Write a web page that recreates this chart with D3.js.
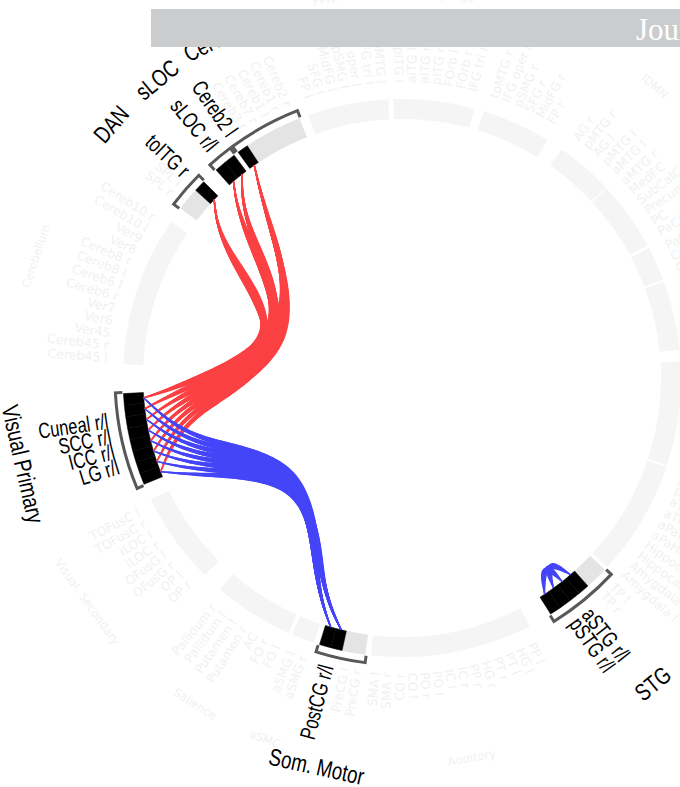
<!DOCTYPE html>
<html>
<head>
<meta charset="utf-8">
<script src="https://cdn.jsdelivr.net/npm/d3@7"></script>
<style>
  body { margin: 0; background: #fff; }
  svg { display: block; }
</style>
</head>
<body>
<div id="graph"></div>
<script>
// ring groups in clockwise order, starting at Visual Primary
const groupNames = ["Visual Primary", "Cerebellum", "DAN", "sLOC", "Cerebellum", "FPN l", "Language", "FPN r",
    "lDMN", "DMN", "Salience ant", "Subcortical", "Cerebellum post", "Limbic", "STG", "Auditory",
    "Som. Motor", "aSMC", "Salience", "Visual. Secondary"];
const groupRois = [
    ["LG r", "LG l", "ICC r", "ICC l", "SCC r", "SCC l", "Cuneal r", "Cuneal l"],
    ["Cereb45 l", "Cereb45 r", "Ver45", "Ver6", "Ver7", "Cereb6 r", "Cereb6 l", "Cereb8 l", "Cereb8 r", "Ver8", "Ver9", "Cereb10 l", "Cereb10 r"],
    ["SPL r", "SPL l", "toITG r"],
    ["sLOC r", "sLOC l"],
    ["Cereb2 l", "Cereb3 r", "Cereb7 r", "Cereb1 l", "Cereb1 r", "Cereb2 r"],
    ["FP l", "SFG l", "MidFG l", "pSMG l", "IFG oper l", "IFG tri l", "toMTG l"],
    ["pITG l", "aITG l", "aITG r", "pITG r", "FOrb l", "FOrb r", "IFG tri r"],
    ["toMTG r", "IFG oper r", "pSMG r", "SFG r", "MidFG r", "FP r"],
    ["AG r", "pMTG r", "AG l", "pMTG l", "aMTG l"],
    ["aMTG r", "MedFC", "SubCalC", "Precuneous", "PC", "PaCiG l"],
    ["PaCiG r", "Caudate l", "Caudate r"],
    ["Thalamus l", "Thalamus r", "Accumbens l", "Accumbens r", "Brain-Stem", "Ver12"],
    ["Ver3", "Ver10", "Cereb9 l", "Cereb9 r", "Cereb3 l", "Cereb7 l", "toITG l", "pPaHC l", "pPaHC r"],
    ["pTFusC l", "pTFusC r", "aTFusC l", "aTFusC r", "aPaHC r", "aPaHC l", "Hippocampus r", "Hippocampus l", "Amygdala r", "Amygdala l"],
    ["TP l", "TP r", "aSTG r", "aSTG l", "pSTG r", "pSTG l"],
    ["PP l", "HG l", "PT l", "PT r", "HG r", "PP r", "IC r", "IC l", "PO l", "PO r", "CO l", "CO r", "SMA r", "SMA l"],
    ["PreCG r", "PreCG l", "PostCG r", "PostCG l"],
    ["aSMG r", "aSMG l"],
    ["FO l", "FO r", "AC", "Putamen r", "Putamen l", "Pallidum l", "Pallidum r"],
    ["OP r", "OP l", "OFusG r", "OFusG l", "iLOC r", "iLOC l", "TOFusC r", "TOFusC l"]
];

// significant ROIs, labelled as left/right pairs
const sigLabels = ["LG r/l", "ICC r/l", "SCC r/l", "Cuneal r/l", "toITG r", "sLOC r/l", "Cereb2 l", "aSTG r/l", "pSTG r/l", "PostCG r/l"];
const sigRois = [["LG r", "LG l"], ["ICC r", "ICC l"], ["SCC r", "SCC l"], ["Cuneal r", "Cuneal l"], ["toITG r"],
    ["sLOC r", "sLOC l"], ["Cereb2 l"], ["aSTG r", "aSTG l"], ["pSTG r", "pSTG l"], ["PostCG r", "PostCG l"]];

// positive (red) connections
const posLinks = [
    ["LG r", "toITG r"], ["LG l", "toITG r"], ["ICC r", "toITG r"], ["ICC l", "toITG r"],
    ["SCC r", "toITG r"], ["SCC l", "toITG r"], ["Cuneal r", "toITG r"], ["Cuneal l", "toITG r"],
    ["LG r", "sLOC r"], ["ICC r", "sLOC r"], ["ICC l", "sLOC r"], ["SCC r", "sLOC r"], ["SCC l", "sLOC r"], ["Cuneal r", "sLOC r"], ["Cuneal l", "sLOC r"],
    ["LG l", "sLOC l"], ["ICC r", "sLOC l"], ["ICC l", "sLOC l"], ["SCC r", "sLOC l"], ["SCC l", "sLOC l"], ["Cuneal r", "sLOC l"], ["Cuneal l", "sLOC l"],
    ["LG r", "Cereb2 l"], ["LG l", "Cereb2 l"], ["ICC r", "Cereb2 l"], ["ICC l", "Cereb2 l"],
    ["SCC r", "Cereb2 l"], ["SCC l", "Cereb2 l"], ["Cuneal r", "Cereb2 l"], ["Cuneal l", "Cereb2 l"]
];
// negative (blue) connections
const negLinks = [
    ["LG r", "PostCG r"], ["LG l", "PostCG r"], ["ICC r", "PostCG r"], ["ICC l", "PostCG r"],
    ["SCC r", "PostCG r"], ["SCC l", "PostCG r"], ["Cuneal r", "PostCG r"], ["Cuneal l", "PostCG r"],
    ["LG r", "PostCG l"], ["LG l", "PostCG l"], ["ICC r", "PostCG l"], ["ICC l", "PostCG l"],
    ["SCC r", "PostCG l"], ["SCC l", "PostCG l"], ["Cuneal r", "PostCG l"], ["Cuneal l", "PostCG l"],
    ["aSTG r", "pSTG r"], ["aSTG l", "pSTG l"], ["aSTG r", "pSTG l"], ["aSTG l", "pSTG r"]
];

// ---- layout ----
const WIDTH = 680, HEIGHT = 787;
const cx = 402, cy = 378;
const rIn = 259, rOut = 279, rBracket = 287, rRoiLabel = 297, rGroupLabel = 386, rFaintGroup = 386, rHub = 216;
const startAngle = 247.6 * Math.PI / 180;
// space after each group, in ROI slots
const groupGaps = [2.5, 1.46, 1.46, 0.42, 0.83, 0.42, 0.83, 1.46, 0.12, 0.25, 0.17, 1.0, 0.17, 0.33, 2.08, 0.5, 0.5, 0.33, 1.75, 1.42];

const FAINT = "#f1f1f1", BAND = "#f5f5f5", LIGHT = "#e4e4e4", BRACKET = "#585858";
const RED = "#fb4143", BLUE = "#4444f8";
// bundling strength of the two link sets
const RED_BETA = 0.52, BLUE_BETA = 0.42;

let svg = d3.select("#graph")
    .append("svg")
    .attr("width", WIDTH)
    .attr("height", HEIGHT);

let g = svg.append("g").attr("transform", `translate(${cx}, ${cy})`);

// slot positions
let groups = [];
let roiSlot = {}, roiGroup = {};
let cum = 0;
groupNames.forEach(function (name, i) {
    let grp = { name: name, rois: groupRois[i], start: cum };
    groupRois[i].forEach(function (r, j) {
        roiSlot[r] = cum + j + 0.5;
        roiGroup[r] = grp;
    });
    cum += groupRois[i].length;
    grp.end = cum;
    cum += groupGaps[i];
    groups.push(grp);
});

let angle = d3.scaleLinear()
    .domain([0, cum])
    .range([startAngle, startAngle + 2 * Math.PI]);

let sigSet = new Set(sigRois.flat());
groups.forEach(function (grp) { grp.sig = grp.rois.some(r => sigSet.has(r)); });

const deg = a => (a * 180 / Math.PI) % 360;
const norm = a => ((a % (2 * Math.PI)) + 2 * Math.PI) % (2 * Math.PI);
const px = (a, r) => [r * Math.sin(a), -r * Math.cos(a)];

// faint ring band for every group
let arc = d3.arc().innerRadius(rIn).outerRadius(rOut);
g.selectAll("path.band")
    .data(groups.filter(d => !d.sig))
    .enter()
    .append("path")
    .attr("class", "band")
    .attr("fill", BAND)
    .attr("d", d => arc({ startAngle: angle(d.start), endAngle: angle(d.end) }));

// ROI segments of highlighted groups
let hiRois = [];
groups.filter(d => d.sig).forEach(function (grp) {
    grp.rois.forEach(function (r) { hiRois.push(r); });
});
g.selectAll("path.roi")
    .data(hiRois)
    .enter()
    .append("path")
    .attr("class", "roi")
    .attr("fill", d => sigSet.has(d) ? "#000" : LIGHT)
    .attr("stroke", d => sigSet.has(d) ? "#000" : LIGHT)
    .attr("stroke-width", 0.5)
    .attr("d", d => arc({ startAngle: angle(roiSlot[d] - 0.5), endAngle: angle(roiSlot[d] + 0.5) }));

// brackets round highlighted groups
g.selectAll("path.bracket")
    .data(groups.filter(d => d.sig))
    .enter()
    .append("path")
    .attr("class", "bracket")
    .attr("fill", "none")
    .attr("stroke", BRACKET)
    .attr("stroke-width", 3)
    .attr("d", function (d) {
        let a0 = angle(d.start) - 0.004, a1 = angle(d.end) + 0.004;
        let p = d3.path();
        let s0 = px(a0, rBracket - 7);
        p.moveTo(s0[0], s0[1]);
        let s1 = px(a0, rBracket);
        p.lineTo(s1[0], s1[1]);
        p.arc(0, 0, rBracket, a0 - Math.PI / 2, a1 - Math.PI / 2);
        let s2 = px(a1, rBracket - 7);
        p.lineTo(s2[0], s2[1]);
        return p.toString();
    });

// connections, bundled through group hubs
function bundle(beta) {
    return d3.lineRadial()
        .angle(d => d[0])
        .radius(d => d[1])
        .curve(d3.curveBundle.beta(beta));
}

function linkPoints(a, b) {
    let ga = roiGroup[a], gb = roiGroup[b];
    let ha = angle((ga.start + ga.end) / 2), hb = angle((gb.start + gb.end) / 2);
    if (ga === gb) {
        return [[angle(roiSlot[a]), rIn], [ha, rHub - 25], [angle(roiSlot[b]), rIn]];
    }
    return [[angle(roiSlot[a]), rIn], [ha, rHub], [0, 0], [hb, rHub], [angle(roiSlot[b]), rIn]];
}

let tmp = g.append("path").attr("visibility", "hidden");

// tapered ribbon along a path: thin at the ends, thick in the middle
function taper(d, wMax, wMin) {
    tmp.attr("d", d);
    let node = tmp.node();
    let L = node.getTotalLength();
    let N = 90;
    let pts = d3.range(N + 1).map(i => node.getPointAtLength(L * i / N));
    let left = [], right = [];
    pts.forEach(function (p, i) {
        let a = pts[Math.max(0, i - 1)], b = pts[Math.min(N, i + 1)];
        let tx = b.x - a.x, ty = b.y - a.y;
        let len = Math.hypot(tx, ty) || 1;
        let nx = -ty / len, ny = tx / len;
        let w = wMin + (wMax - wMin) * Math.pow(Math.sin(Math.PI * i / N), 1.2);
        left.push([p.x + nx * w / 2, p.y + ny * w / 2]);
        right.push([p.x - nx * w / 2, p.y - ny * w / 2]);
    });
    return d3.line()(left.concat(right.reverse())) + "Z";
}

let links = posLinks.map(d => ({ a: d[0], b: d[1], color: RED, beta: RED_BETA }))
    .concat(negLinks.map(d => ({ a: d[0], b: d[1], color: BLUE, beta: BLUE_BETA })));

g.selectAll("path.link")
    .data(links)
    .enter()
    .append("path")
    .attr("class", "link")
    .attr("fill", d => d.color)
    .attr("d", function (d) {
        let same = roiGroup[d.a] === roiGroup[d.b];
        return taper(bundle(d.beta)(linkPoints(d.a, d.b)), same ? 4.5 : 7, 1.3);
    });
tmp.remove();

// radial ROI labels
function radial(sel, a, r) {
    let p = px(a, r);
    let right = norm(a) < Math.PI;
    sel.attr("text-anchor", right ? "start" : "end")
        .attr("dy", "0.35em");
    return { p: p, rot: right ? deg(a) - 90 : deg(a) + 90 };
}

let faintRois = [];
groups.forEach(grp => grp.rois.forEach(r => { if (!sigSet.has(r)) faintRois.push(r); }));

g.selectAll("text.roi")
    .data(faintRois)
    .enter()
    .append("text")
    .attr("class", "roi")
    .style("font", "12.5px 'DejaVu Sans'")
    .attr("fill", FAINT)
    .text(d => d)
    .each(function (d) {
        let t = radial(d3.select(this), angle(roiSlot[d]), rRoiLabel - 2);
        d3.select(this).attr("transform", `translate(${t.p[0]}, ${t.p[1]}) rotate(${t.rot})`);
    });

// significant labels, stacked inside each group
const labelStep = 15.5 / rRoiLabel;
let sigLab = sigLabels.map((t, i) => ({ text: t, rois: sigRois[i], grp: roiGroup[sigRois[i][0]] }));
groups.filter(d => d.sig).forEach(function (grp) {
    let labs = sigLab.filter(d => d.grp === grp);
    let mid = d3.mean(labs, d => d3.mean(d.rois, r => angle(roiSlot[r])));
    labs.forEach(function (d, i) { d.angle = mid + (i - (labs.length - 1) / 2) * labelStep; });
});

g.selectAll("text.sig")
    .data(sigLab)
    .enter()
    .append("text")
    .attr("class", "sig")
    .style("font", "22px 'Liberation Sans'")
    .attr("fill", "#000")
    .text(d => d.text)
    .each(function (d) {
        let t = radial(d3.select(this), d.angle, rRoiLabel);
        d3.select(this).attr("transform", `translate(${t.p[0]}, ${t.p[1]}) rotate(${t.rot}) scale(0.75, 1)`);
    });

// group labels, written along the ring
function tangential(a) {
    let n = norm(a);
    let flip = n > Math.PI / 2 && n < 3 * Math.PI / 2;
    return flip ? deg(a) - 180 : deg(a);
}
// lower labels sit a little further out
const groupRadius = (a, r) => r + 12 * Math.max(0, -Math.cos(a));

g.selectAll("text.faintgroup")
    .data(groups.filter(d => !d.sig))
    .enter()
    .append("text")
    .attr("class", "faintgroup")
    .style("font", "11.5px 'DejaVu Sans'")
    .attr("fill", FAINT)
    .attr("text-anchor", "middle")
    .attr("dy", "0.35em")
    .text(d => d.name)
    .attr("transform", function (d) {
        let a = angle((d.start + d.end) / 2);
        let p = px(a, rFaintGroup);
        return `translate(${p[0]}, ${p[1]}) rotate(${tangential(a)})`;
    });

let sigGroups = groups.filter(d => d.sig).map(function (grp) {
    return { name: grp.name, angle: angle((grp.start + grp.end) / 2) };
});

let groupText = g.selectAll("text.group")
    .data(sigGroups)
    .enter()
    .append("text")
    .attr("class", "group")
    .style("font", "24px 'Liberation Sans'")
    .attr("fill", "#000")
    .attr("text-anchor", "middle")
    .attr("dy", "0.35em")
    .text(d => d.name);

// push neighbouring group labels apart so they do not overlap
groupText.each(function (d) { d.w = this.getComputedTextLength() * 0.78; });
let sorted = sigGroups.slice().sort((a, b) => norm(a.angle - startAngle) - norm(b.angle - startAngle));
for (let i = 1; i < sorted.length; i++) {
    let prev = sorted[i - 1], cur = sorted[i];
    let minA = prev.angle + (prev.w / 2 + cur.w / 2 + 13) / rGroupLabel;
    if (cur.angle < minA) cur.angle = minA;
}
groupText.attr("transform", function (d) {
    let p = px(d.angle, groupRadius(d.angle, rGroupLabel));
    return `translate(${p[0]}, ${p[1]}) rotate(${tangential(d.angle)}) scale(0.78, 1)`;
});

// journal header strip on top
svg.append("rect")
    .attr("x", 151)
    .attr("y", 9)
    .attr("width", WIDTH - 151)
    .attr("height", 38)
    .attr("fill", "#cbcccd");

svg.append("text")
    .attr("x", 636)
    .attr("y", 40)
    .style("font", "31px 'Liberation Serif'")
    .attr("fill", "#fff")
    .text("Journal of Neuroscience");
</script>
</body>
</html>
